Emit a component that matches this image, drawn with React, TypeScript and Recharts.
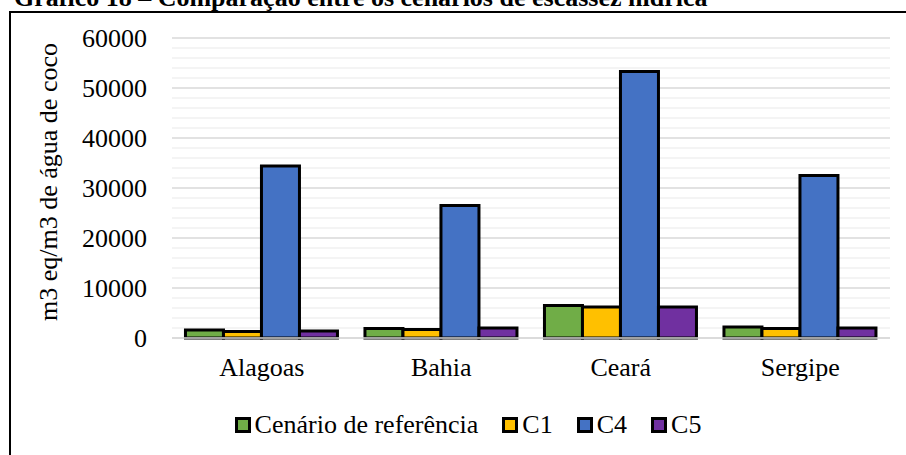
import React from 'react';
import { BarChart, Bar, XAxis, YAxis, CartesianGrid, Legend } from 'recharts';

const categories = ['Alagoas', 'Bahia', 'Ceará', 'Sergipe'];
const cenarioReferencia = [1600, 1900, 6500, 2200];
const c1Values = [1300, 1700, 6200, 1900];
const c4Values = [34400, 26500, 53300, 32500];
const c5Values = [1400, 2000, 6200, 2000];

const yTicks = [0, 10000, 20000, 30000, 40000, 50000, 60000];
const minorGrid = [2000, 4000, 6000, 8000, 12000, 14000, 16000, 18000, 22000, 24000, 26000, 28000,
  32000, 34000, 36000, 38000, 42000, 44000, 46000, 48000, 52000, 54000, 56000, 58000];

const series = [
  { key: 'referencia', name: 'Cenário de referência', color: '#70ad47' },
  { key: 'c1', name: 'C1', color: '#ffc000' },
  { key: 'c4', name: 'C4', color: '#4472c4' },
  { key: 'c5', name: 'C5', color: '#7030a0' },
];

const data = categories.map((name, i) => ({
  name,
  referencia: cenarioReferencia[i],
  c1: c1Values[i],
  c4: c4Values[i],
  c5: c5Values[i],
}));

const FONT = "'Liberation Serif', 'DejaVu Serif', serif";

const LegendContent = () => (
  <div style={{ display: 'flex', justifyContent: 'center', alignItems: 'center', height: 30, paddingLeft: 30, fontFamily: FONT, fontSize: 26, lineHeight: '30px', color: '#000' }}>
    {series.map((s, i) => (
      <div key={s.key} style={{ display: 'flex', alignItems: 'center', marginLeft: i === 0 ? 0 : 24 }}>
        <span style={{ display: 'inline-block', width: 10, height: 10, border: '3px solid #000', background: s.color, marginRight: 4 }} />
        <span>{s.name}</span>
      </div>
    ))}
  </div>
);

const YLabel = ({ viewBox }: any) => {
  const x = viewBox.x - 24;
  const y = viewBox.y + viewBox.height / 2 - 6;
  return (
    <text x={x} y={y} transform={`rotate(-90 ${x} ${y})`} textAnchor="middle" dominantBaseline="central"
      style={{ fontFamily: FONT }} fontSize={26} fill="#000">
      m3 eq/m3 de água de coco
    </text>
  );
};

const tickStyle = { fontFamily: FONT, fontSize: 26, fill: '#000' };

export default function App() {
  return (
    <div style={{ position: 'absolute', left: 0, top: 0, width: 906, height: 455, overflow: 'hidden', background: '#fff', fontFamily: FONT }}>
      <div style={{ position: 'absolute', left: 14, top: -15, fontFamily: FONT, fontSize: 26, lineHeight: '26px', fontWeight: 'bold', whiteSpace: 'nowrap', color: '#000' }}>
        Gráfico 18 – Comparação entre os cenários de escassez hídrica
      </div>
      <div style={{ position: 'absolute', left: 9, top: 11, width: 920, height: 470, border: '2px solid #000', boxSizing: 'border-box' }} />
      <div style={{ position: 'absolute', left: 0, top: 0 }}>
        <BarChart width={906} height={455} data={data} style={{ fontFamily: FONT }}
          margin={{ top: 38, right: 16, left: 72, bottom: 37 }}
          barGap={0} barCategoryGap="7.5%">
          <CartesianGrid vertical={false} horizontalValues={minorGrid} stroke="#f0f0f0" strokeWidth={1.5} />
          <CartesianGrid vertical={false} horizontalValues={yTicks} stroke="#d9d9d9" strokeWidth={1.5} />
          <XAxis dataKey="name" height={50} tickSize={0} tickMargin={20}
            axisLine={{ stroke: '#d9d9d9', strokeWidth: 1.5 }} tickLine={false}
            tick={{ ...tickStyle, style: { fontFamily: FONT } }} />
          <YAxis width={100} domain={[0, 60000]} ticks={yTicks} interval={0}
            axisLine={false} tickLine={false} tickSize={0} tickMargin={25}
            tick={{ ...tickStyle, style: { fontFamily: FONT } }}
            label={<YLabel />} />
          <Legend verticalAlign="bottom" height={30} content={<LegendContent />}
            wrapperStyle={{ top: 410, left: 0, width: 906, height: 30 }} />
          {series.map((s) => (
            <Bar key={s.key} dataKey={s.key} name={s.name} fill={s.color}
              stroke="#000" strokeWidth={3} isAnimationActive={false} />
          ))}
        </BarChart>
      </div>
    </div>
  );
}
